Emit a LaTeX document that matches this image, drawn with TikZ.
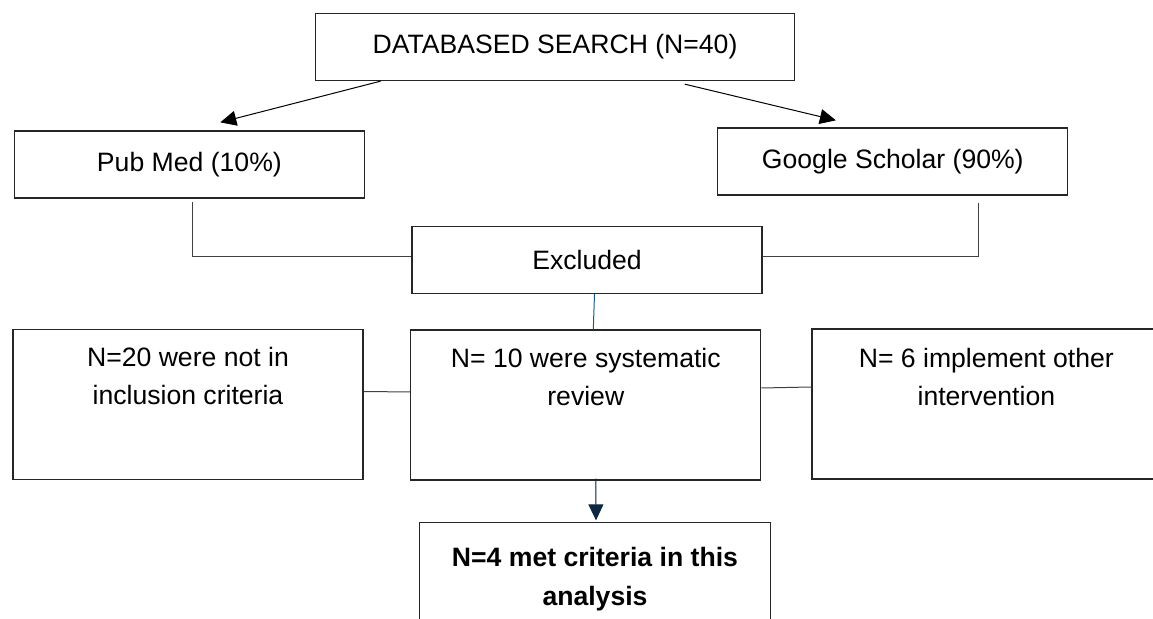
\documentclass[tikz,border=0pt]{standalone}
\usepackage{fontspec}
\setmainfont{Liberation Sans}
\usetikzlibrary{arrows.meta,calc}
\definecolor{linkblue}{HTML}{156082}
\definecolor{navy}{HTML}{0E2841}
\begin{document}
\begin{tikzpicture}[x=0.5pt, y=-0.5pt, font=\fontsize{13.3}{19}\selectfont,
   box_style/.style={draw=black!85, line width=0.65pt, inner sep=0pt, minimum width=175pt, minimum height=33.5pt},
   text_style/.style={anchor=north, align=center, inner sep=0pt},
   link_style/.style={draw=black!75, line width=0.5pt},
   arrow_style/.style={draw=black, line width=0.5pt, -{Triangle[length=8pt,width=7.5pt]}}]
	  \clip (0,0) rectangle (1153,619);

	  \node [box_style, minimum width=239.5pt] (search) at (555,47) {DATABASED SEARCH (N=40)};
	  \node [box_style] (pubmed) at (189.4,164.5) {Pub Med (10\%)};
	  \node [box_style] (scholar) at (892.8,161.5) {Google Scholar (90\%)};
	  \node [box_style] (excluded) at (587,260) {Excluded};
	  \node [box_style, minimum height=75pt] (notin) at (188,404.5) {};
	  \node [box_style, minimum height=75pt] (sysrev) at (585.8,405) {};
	  % these two run past the page edge
	  \node [box_style, minimum width=220pt, minimum height=75pt, overlay] (other) at (1032,404) {};
	  \node [box_style, draw=none, minimum height=75pt, overlay] (met) at (595,598) {};
	  \draw [box_style, overlay] (met.south west) |- (met.north) -| (met.south east);

	  \node [text_style] (notintext) at ($(notin.north)+(0,18)$) {N=20 were not in\\inclusion criteria};
	  \node [text_style] (sysrevtext) at ($(sysrev.north)+(0,18)$) {N= 10 were systematic\\review};
	  \node [text_style] (othertext) at ($(other.north west)+(175,19)$) {N= 6 implement other\\intervention};
	  \node [text_style, font=\fontsize{13.3}{19.5}\selectfont\bfseries] (mettext) at ($(met.north)+(0,24)$) {N=4 met criteria in this\\analysis};

	  \draw [arrow_style] ($(search.south west)!0.137!(search.south east)$) -- ($(pubmed.north west)!0.588!(pubmed.north east)+(0,-8)$);
	  \draw [arrow_style] ($(search.south west)!0.77!(search.south east)+(0,3)$) -- ($(scholar.north west)!0.338!(scholar.north east)+(0,-7)$);

	  \draw [link_style] ($(pubmed.south)+(3,3)$) |- ($(excluded.west)+(0,-3)$);
	  \draw [link_style] ($(scholar.south west)!0.745!(scholar.south east)+(0,7)$) |- ($(excluded.east)+(0,-3)$);
	  \draw [link_style, draw=linkblue] ($(excluded.south)+(7.5,0)$) -- ($(sysrev.north)+(7.5,0)$);
	  \foreach \from/\to/\dy in {notin/sysrev/-13, sysrev/other/-17}
	    \draw [link_style] ($(\from.east)+(0,\dy)$) -- ($(\to.west)+(0,\dy)$);
	  \draw [arrow_style, draw=navy, fill=navy] ($(sysrev.south)+(10,-2)$) -- ($(met.north)+(1,-2)$);
	\end{tikzpicture}
\end{document}
